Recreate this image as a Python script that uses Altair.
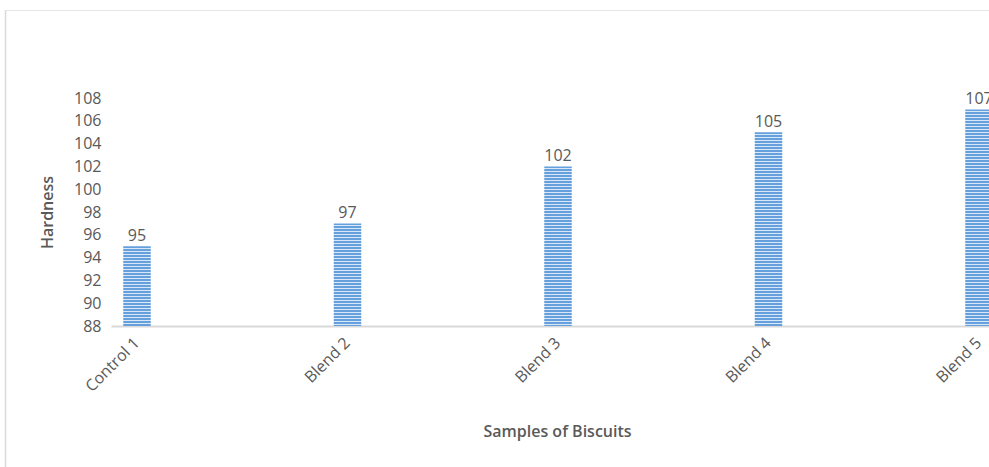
import altair as alt
import pandas as pd

categories = ["Control 1", "Blend 2", "Blend 3", "Blend 4", "Blend 5"]
hardness = [95, 97, 102, 105, 107]
y_ticks = [88, 90, 92, 94, 96, 98, 100, 102, 104, 106, 108]

Y_MIN, Y_MAX = 88, 108
PLOT_W, PLOT_H = 878, 228
PX_PER_UNIT = PLOT_H / (Y_MAX - Y_MIN)
BLUE = "#659FDC"
LIGHT = "#D9E8F8"
TEXT = "#595959"
FONT = "Open Sans"
PERIOD = 3.0
BLUE_PX = 1.8

df = pd.DataFrame({"cat": categories, "val": hardness})


def stripes(value):
    h = (value - Y_MIN) * PX_PER_UNIT
    stops = []
    pos = 0.0
    while pos < h:
        a = pos / h
        b = min(1.0, (pos + BLUE_PX) / h)
        c = min(1.0, (pos + PERIOD) / h)
        stops += [
            {"offset": a, "color": BLUE},
            {"offset": b, "color": BLUE},
            {"offset": b, "color": LIGHT},
            {"offset": c, "color": LIGHT},
        ]
        pos += PERIOD
    return {"gradient": "linear", "x1": 0, "y1": 0, "x2": 0, "y2": 1, "stops": stops}


fill_enc = {
    "condition": [
        {"test": f"datum.cat === '{c}'", "value": stripes(v)}
        for c, v in zip(categories[:-1], hardness[:-1])
    ],
    "value": stripes(hardness[-1]),
}

x_scale = alt.Scale(range=[0, 894], paddingInner=0.8694, paddingOuter=0.0582)
y_scale = alt.Scale(domain=[Y_MIN, Y_MAX], zero=False, nice=False)

x_axis = alt.Axis(
    title="Samples of Biscuits",
    labelAngle=-45,
    labelAlign="right",
    labelBaseline="middle",
    labelPadding=14,
    labelFont=FONT,
    labelFontSize=16,
    labelColor=TEXT,
    ticks=False,
    domainColor="#D9D9D9",
    domainWidth=2,
    titleFont=FONT,
    titleFontSize=16,
    titleFontWeight=600,
    titleColor=TEXT,
    titleX=446,
    titleY=105,
    titleBaseline="middle",
    titleAnchor="start",
    titleAlign="center",
)

y_axis = alt.Axis(
    title="Hardness",
    values=y_ticks,
    labelOverlap=False,
    domain=False,
    ticks=False,
    grid=False,
    labelPadding=10,
    labelFont=FONT,
    labelFontSize=16,
    labelColor=TEXT,
    titleFont=FONT,
    titleFontSize=16,
    titleFontWeight=600,
    titleColor=TEXT,
    titleX=-64,
    titleY=114,
    titleAngle=270,
    titleAlign="center",
    titleBaseline="middle",
)

bars = (
    alt.Chart(df)
    .mark_bar(clip=True, strokeWidth=0)
    .encode(
        x=alt.X("cat:N", sort=categories, scale=x_scale, axis=x_axis),
        y=alt.Y("val:Q", scale=y_scale, axis=y_axis),
        y2=alt.datum(Y_MIN),
        fill=fill_enc,
    )
)

labels = (
    alt.Chart(df)
    .mark_text(baseline="bottom", dy=-2, font=FONT, fontSize=16, color=TEXT)
    .encode(
        x=alt.X("cat:N", sort=categories, scale=x_scale, axis=x_axis),
        y=alt.Y("val:Q", scale=y_scale, axis=y_axis),
        text="val:Q",
    )
)

frame_v = (
    alt.Chart(alt.Data(values=[{}]))
    .mark_rule(color="#D9D9D9", strokeWidth=1.5)
    .encode(x=alt.value(-105.5), y=alt.value(-88), y2=alt.value(369))
)
frame_h = (
    alt.Chart(alt.Data(values=[{}]))
    .mark_rule(color="#E6E6E6", strokeWidth=1)
    .encode(x=alt.value(-105.5), x2=alt.value(900), y=alt.value(-87.5))
)

chart = (
    alt.layer(bars, labels, frame_v, frame_h)
    .properties(
        width=PLOT_W,
        height=PLOT_H,
        padding={"left": 111, "top": 98, "right": 0, "bottom": 141},
        autosize=alt.AutoSizeParams(type="none"),
        background="white",
    )
    .configure_view(stroke=None)
)

chart.save("out.html", embed_options={"renderer": "svg", "actions": False})
